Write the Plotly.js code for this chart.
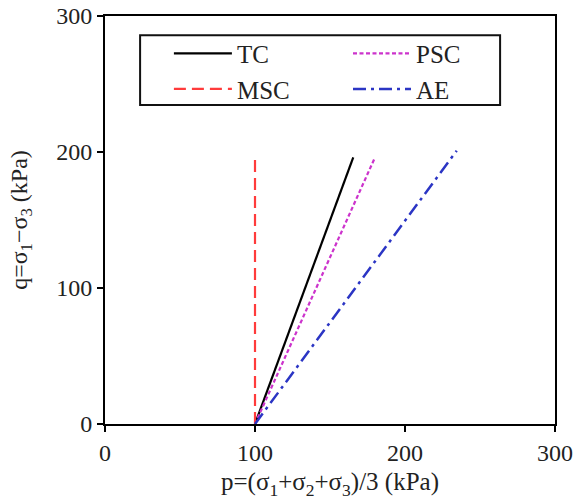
<!DOCTYPE html>
<html><head><meta charset="utf-8">
<script src="https://cdn.plot.ly/plotly-3.0.1.min.js"></script>
<style>body{margin:0;background:#fff}#c{width:582px;height:501px}</style>
</head><body><div id="c"></div>
<script>
const seriesNames = ["TC", "PSC", "MSC", "AE"];
const tcP = [100, 165.5];  const tcQ = [0, 196];
const pscP = [100, 180];   const pscQ = [0, 196];
const mscP = [100, 100];   const mscQ = [0, 195];
const aeP = [100, 234.5];  const aeQ = [0, 201];
const xTicks = [0, 100, 200, 300];
const yTicks = [0, 100, 200, 300];

const fontFam = "Liberation Serif";
const traces = [
  {x: tcP, y: tcQ, name: seriesNames[0], legend: "legend", mode: "lines", line: {color: "#000000", width: 2.2, dash: "solid"}},
  {x: pscP, y: pscQ, name: seriesNames[1], legend: "legend2", mode: "lines", line: {color: "#cc33cc", width: 2.2, dash: "4px,2.5px"}},
  {x: mscP, y: mscQ, name: seriesNames[2], legend: "legend", mode: "lines", line: {color: "#ff3b3b", width: 2.2, dash: "12px,6px"}},
  {x: aeP, y: aeQ, name: seriesNames[3], legend: "legend2", mode: "lines", line: {color: "#2b35c4", width: 2.5, dash: "13px,5px,3px,5px"}}
];
const axisCommon = {
  range: [0, 300], showgrid: false, zeroline: false,
  showline: true, linecolor: "#000", linewidth: 2, mirror: true,
  ticks: "outside", ticklen: 6, tickwidth: 2, tickcolor: "#000",
  tickfont: {family: fontFam, size: 24, color: "#222"}
};
const legendCommon = {
  orientation: "v", y: 0.964, xanchor: "left", yanchor: "top",
  itemwidth: 58, borderwidth: 0, bgcolor: "rgba(0,0,0,0)",
  font: {family: fontFam, size: 25, color: "#222"}, traceorder: "normal"
};
const layout = {
  width: 582, height: 501,
  margin: {l: 105, r: 27, t: 16, b: 77},
  paper_bgcolor: "#fff", plot_bgcolor: "#fff",
  font: {family: fontFam, color: "#222"},
  xaxis: Object.assign({}, axisCommon, {tickvals: xTicks,
    title: {text: "p=(σ<sub>1</sub>+σ<sub>2</sub>+σ<sub>3</sub>)/3 (kPa)", font: {family: fontFam, size: 25, color: "#222"}, standoff: 8}}),
  yaxis: Object.assign({}, axisCommon, {tickvals: yTicks,
    title: {text: "q=σ<sub>1</sub>−σ<sub>3</sub> (kPa)", font: {family: fontFam, size: 24, color: "#222"}, standoff: 22}}),
  showlegend: true,
  legend: Object.assign({}, legendCommon, {x: 0.142}),
  legend2: Object.assign({}, legendCommon, {x: 0.540}),
  shapes: [{type: "rect", xref: "paper", yref: "paper", x0: 0.078, x1: 0.878, y0: 0.782, y1: 0.953,
    line: {color: "#111", width: 2}, fillcolor: "rgba(0,0,0,0)", layer: "above"}]
};
Plotly.newPlot("c", traces, layout, {displayModeBar: false});
</script></body></html>
